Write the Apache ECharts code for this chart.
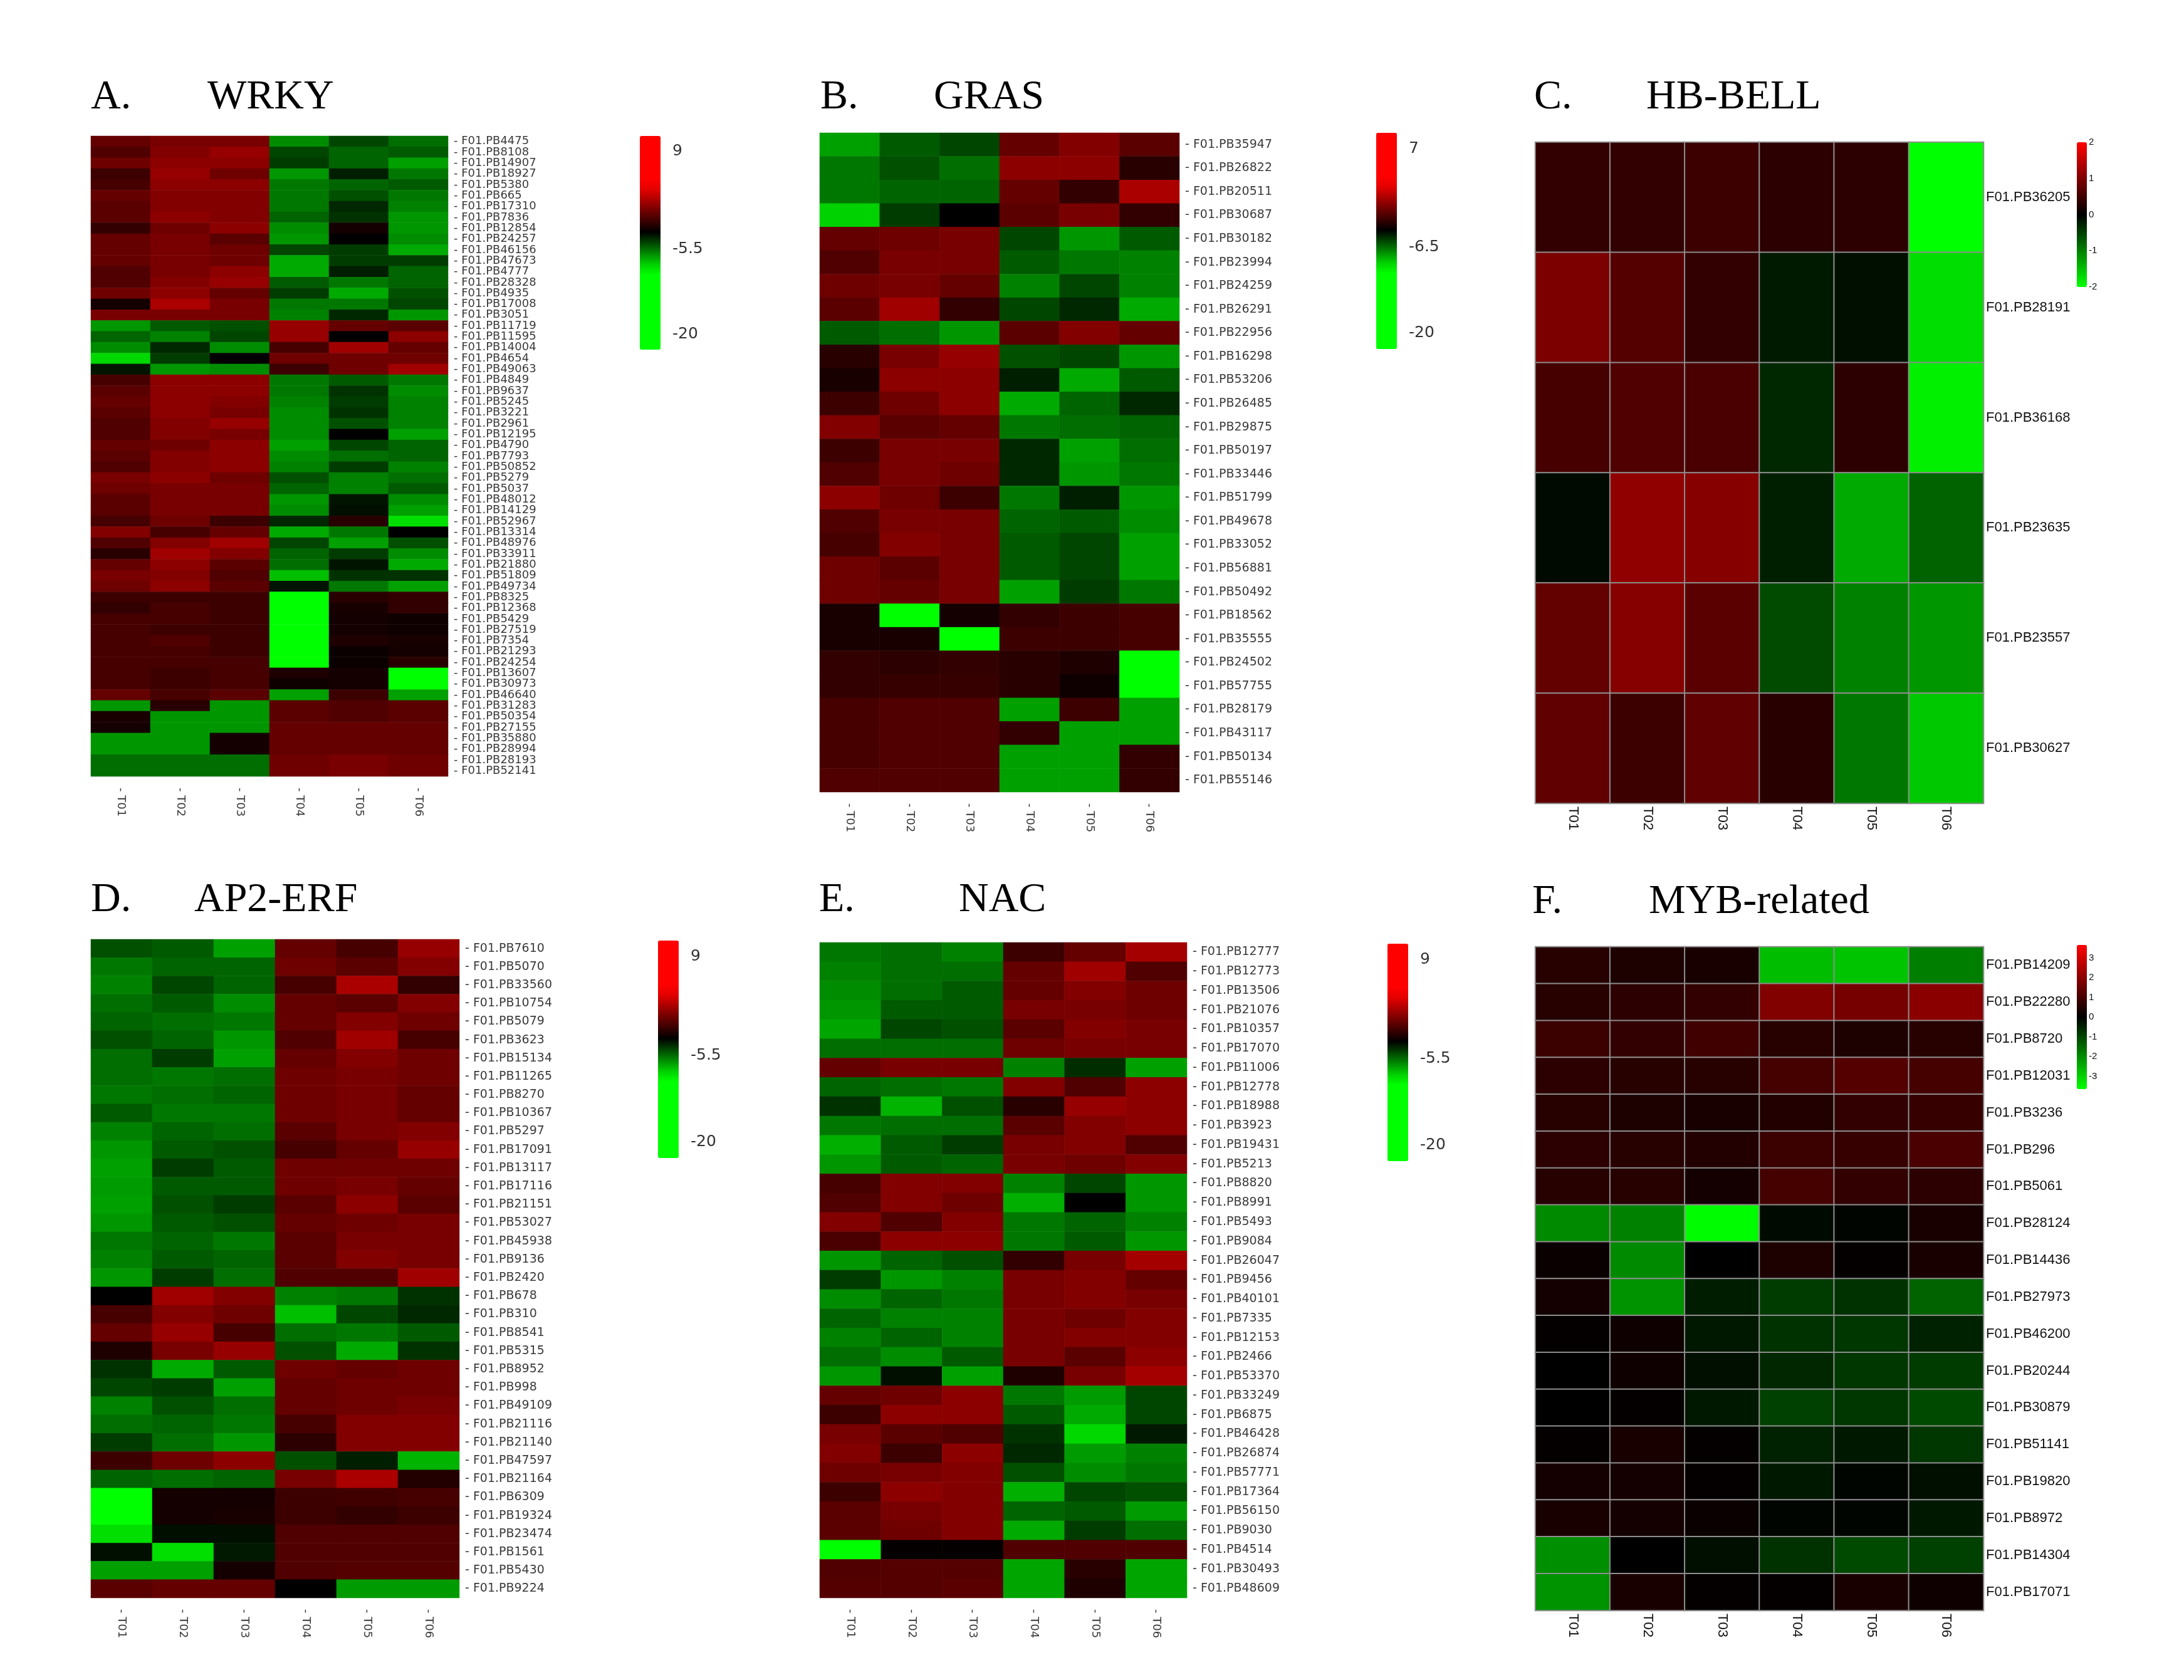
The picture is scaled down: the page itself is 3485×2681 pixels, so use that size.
<!DOCTYPE html>
<html>
<head>
<meta charset="utf-8">
<title>TF family expression heatmaps</title>
<script src="https://cdn.jsdelivr.net/npm/echarts@6.0.0/dist/echarts.min.js"></script>
<style>
html, body { margin: 0; padding: 0; background: #ffffff; }
#main { width: 3485px; height: 2681px; }
</style>
</head>
<body>
<div id="main"></div>
<script>
var samples = ['T01', 'T02', 'T03', 'T04', 'T05', 'T06'];

// A. WRKY
var wrkyGenes = ['F01.PB4475','F01.PB8108','F01.PB14907','F01.PB18927','F01.PB5380','F01.PB665','F01.PB17310','F01.PB7836','F01.PB12854','F01.PB24257',
  'F01.PB46156','F01.PB47673','F01.PB4777','F01.PB28328','F01.PB4935','F01.PB17008','F01.PB3051','F01.PB11719','F01.PB11595','F01.PB14004',
  'F01.PB4654','F01.PB49063','F01.PB4849','F01.PB9637','F01.PB5245','F01.PB3221','F01.PB2961','F01.PB12195','F01.PB4790','F01.PB7793',
  'F01.PB50852','F01.PB5279','F01.PB5037','F01.PB48012','F01.PB14129','F01.PB52967','F01.PB13314','F01.PB48976','F01.PB33911','F01.PB21880',
  'F01.PB51809','F01.PB49734','F01.PB8325','F01.PB12368','F01.PB5429','F01.PB27519','F01.PB7354','F01.PB21293','F01.PB24254','F01.PB13607',
  'F01.PB30973','F01.PB46640','F01.PB31283','F01.PB50354','F01.PB27155','F01.PB35880','F01.PB28994','F01.PB28193','F01.PB52141'];
var wrkyValues = [
  [-1.49, -0.98, -0.98, -7.00, -5.52, -6.36],
  [-2.00, -0.72, -0.21, -5.52, -6.15, -5.94],
  [-1.23, -0.47, -0.47, -5.31, -6.15, -7.42],
  [-2.51, -0.21, -1.23, -7.21, -4.68, -6.57],
  [-2.26, -0.47, -0.47, -6.57, -6.15, -5.94],
  [-1.49, -0.72, -0.72, -6.57, -5.73, -6.57],
  [-1.75, -0.72, -0.72, -6.57, -4.89, -6.79],
  [-1.75, -0.47, -0.72, -6.15, -5.10, -7.21],
  [-2.77, -1.23, -0.47, -7.00, -3.54, -7.21],
  [-1.49, -0.98, -1.75, -7.21, -4.05, -7.00],
  [-1.49, -0.98, -1.23, -5.52, -5.31, -7.63],
  [-1.49, -0.98, -1.23, -7.63, -5.31, -5.31],
  [-2.00, -0.98, -0.47, -7.63, -4.68, -6.15],
  [-2.00, -0.72, -0.21, -5.94, -6.57, -6.15],
  [-1.23, -0.47, -1.49, -5.31, -7.63, -5.73],
  [-3.54, 0.30, -0.98, -6.57, -6.57, -5.52],
  [-0.98, -0.98, -0.98, -6.79, -4.89, -7.21],
  [-7.21, -5.94, -5.73, -0.21, -1.49, -1.75],
  [-6.15, -6.79, -5.52, -0.21, -4.05, -0.47],
  [-7.00, -4.89, -7.00, -2.26, 0.04, -1.49],
  [-8.68, -5.31, -4.05, -1.23, -1.23, -1.23],
  [-4.47, -7.21, -7.00, -2.51, -1.23, 0.04],
  [-2.26, -0.47, -0.47, -6.57, -5.94, -6.57],
  [-1.75, -0.47, -0.47, -6.57, -5.10, -7.00],
  [-1.49, -0.47, -0.72, -6.79, -5.31, -6.79],
  [-1.75, -0.47, -0.98, -7.00, -5.10, -6.79],
  [-2.00, -0.72, -0.21, -7.00, -5.73, -6.79],
  [-2.00, -0.72, -0.98, -7.00, -4.05, -7.42],
  [-1.49, -1.23, -0.47, -7.42, -5.52, -6.15],
  [-1.75, -0.72, -0.47, -7.00, -6.36, -6.15],
  [-2.00, -0.72, -0.47, -6.79, -5.31, -6.79],
  [-0.98, -0.47, -1.23, -5.73, -6.79, -6.36],
  [-1.23, -0.98, -0.98, -6.15, -6.79, -5.94],
  [-1.75, -0.98, -0.98, -7.21, -4.47, -7.00],
  [-1.75, -0.98, -0.98, -7.00, -4.37, -7.42],
  [-2.26, -1.23, -2.51, -4.89, -3.03, -8.89],
  [-0.72, -2.26, -1.49, -7.63, -6.57, -4.05],
  [-2.00, -0.72, 0.04, -5.52, -7.42, -5.73],
  [-3.03, 0.04, -0.72, -6.15, -5.31, -7.00],
  [-1.49, -0.47, -1.75, -6.36, -4.47, -7.63],
  [-0.98, -0.72, -2.00, -8.05, -5.10, -5.10],
  [-1.23, -0.47, -1.75, -4.47, -6.57, -7.42],
  [-2.51, -2.51, -2.51, -16.0, -3.03, -2.77],
  [-2.77, -2.26, -2.51, -16.0, -3.41, -2.77],
  [-2.26, -2.26, -2.51, -16.0, -3.54, -3.67],
  [-2.26, -2.51, -2.51, -16.0, -3.54, -3.67],
  [-2.26, -2.00, -2.51, -16.0, -3.28, -3.41],
  [-2.26, -2.26, -2.51, -16.0, -3.79, -3.54],
  [-2.26, -2.26, -2.26, -16.0, -3.79, -3.03],
  [-2.26, -2.51, -2.26, -3.28, -3.54, -16.0],
  [-2.26, -2.51, -2.26, -3.67, -3.54, -16.0],
  [-1.49, -2.26, -1.75, -7.42, -2.51, -7.42],
  [-7.21, -3.03, -7.21, -1.75, -2.00, -1.75],
  [-3.41, -7.21, -7.21, -1.75, -2.00, -1.75],
  [-3.54, -7.21, -7.21, -1.49, -1.49, -1.49],
  [-7.21, -7.21, -3.54, -1.49, -1.49, -1.49],
  [-7.21, -7.21, -3.54, -1.49, -1.49, -1.49],
  [-6.36, -6.36, -6.36, -1.23, -0.98, -1.23],
  [-6.36, -6.36, -6.36, -1.23, -0.98, -1.23]
];

// B. GRAS
var grasGenes = ['F01.PB35947','F01.PB26822','F01.PB20511','F01.PB30687','F01.PB30182','F01.PB23994','F01.PB24259','F01.PB26291','F01.PB22956','F01.PB16298',
  'F01.PB53206','F01.PB26485','F01.PB29875','F01.PB50197','F01.PB33446','F01.PB51799','F01.PB49678','F01.PB33052','F01.PB56881','F01.PB50492',
  'F01.PB18562','F01.PB35555','F01.PB24502','F01.PB57755','F01.PB28179','F01.PB43117','F01.PB50134','F01.PB55146'];
var grasValues = [
  [-8.28, -6.91, -6.52, -2.77, -2.05, -3.01],
  [-7.50, -6.72, -7.30, -1.82, -1.82, -4.20],
  [-7.50, -7.11, -7.11, -2.77, -3.96, -1.10],
  [-9.26, -6.33, -5.15, -3.01, -2.29, -3.96],
  [-2.77, -2.53, -2.29, -6.52, -8.09, -6.91],
  [-3.24, -2.29, -2.29, -6.91, -7.50, -7.70],
  [-2.53, -2.29, -2.77, -7.70, -6.52, -7.70],
  [-3.01, -1.34, -3.96, -6.52, -5.93, -8.48],
  [-6.91, -7.30, -8.09, -3.01, -2.05, -2.77],
  [-4.20, -2.29, -1.58, -6.72, -6.52, -8.09],
  [-4.55, -1.82, -1.82, -5.74, -8.48, -6.91],
  [-3.72, -2.53, -1.82, -8.48, -7.11, -5.93],
  [-2.05, -3.01, -2.77, -7.50, -7.30, -7.11],
  [-3.72, -2.29, -2.29, -5.93, -8.28, -7.30],
  [-3.24, -2.29, -2.53, -5.93, -8.09, -7.50],
  [-1.82, -2.53, -3.72, -7.50, -5.74, -8.09],
  [-3.24, -2.29, -2.29, -7.11, -6.91, -7.89],
  [-3.48, -2.05, -2.29, -6.91, -6.52, -8.28],
  [-2.53, -3.01, -2.29, -6.91, -6.52, -8.28],
  [-2.53, -2.77, -2.29, -8.28, -6.33, -7.50],
  [-4.55, -15.0, -4.67, -3.96, -3.72, -3.48],
  [-4.55, -4.55, -15.0, -3.72, -3.72, -3.48],
  [-3.96, -4.08, -3.96, -4.20, -4.44, -15.0],
  [-3.96, -3.84, -3.84, -4.20, -4.79, -15.0],
  [-3.48, -3.24, -3.24, -8.28, -3.72, -8.28],
  [-3.48, -3.24, -3.24, -3.96, -8.28, -8.28],
  [-3.48, -3.24, -3.24, -8.28, -8.28, -3.96],
  [-3.24, -3.24, -3.24, -8.28, -8.28, -3.96]
];

// C. HB-BELL
var bellGenes = ['F01.PB36205', 'F01.PB28191', 'F01.PB36168', 'F01.PB23635', 'F01.PB23557', 'F01.PB30627'];
var bellValues = [
  [0.39, 0.39, 0.47, 0.35, 0.35, -2.00],
  [0.98, 0.67, 0.39, -0.20, -0.12, -1.73],
  [0.55, 0.63, 0.59, -0.31, 0.35, -1.88],
  [-0.08, 1.14, 1.06, -0.24, -1.33, -0.78],
  [0.78, 1.06, 0.71, -0.59, -1.02, -1.18],
  [0.75, 0.47, 0.75, 0.31, -0.94, -1.57]
];

// D. AP2-ERF
var erfGenes = ['F01.PB7610','F01.PB5070','F01.PB33560','F01.PB10754','F01.PB5079','F01.PB3623','F01.PB15134','F01.PB11265','F01.PB8270','F01.PB10367',
  'F01.PB5297','F01.PB17091','F01.PB13117','F01.PB17116','F01.PB21151','F01.PB53027','F01.PB45938','F01.PB9136','F01.PB2420','F01.PB678',
  'F01.PB310','F01.PB8541','F01.PB5315','F01.PB8952','F01.PB998','F01.PB49109','F01.PB21116','F01.PB21140','F01.PB47597','F01.PB21164',
  'F01.PB6309','F01.PB19324','F01.PB23474','F01.PB1561','F01.PB5430','F01.PB9224'];
var erfValues = [
  [-5.73, -5.94, -7.42, -1.49, -2.26, -0.21],
  [-6.57, -6.15, -6.15, -1.23, -1.75, -0.72],
  [-6.79, -5.52, -6.15, -2.26, 0.30, -2.77],
  [-6.36, -5.94, -7.00, -1.49, -1.75, -0.72],
  [-6.15, -6.36, -6.57, -1.49, -0.72, -1.23],
  [-5.73, -6.15, -7.21, -2.00, 0.04, -2.26],
  [-6.36, -5.31, -7.42, -1.49, -0.72, -1.23],
  [-6.36, -6.57, -6.36, -1.23, -0.98, -1.23],
  [-6.57, -6.36, -6.15, -1.23, -0.98, -1.49],
  [-5.94, -6.57, -6.57, -1.23, -0.98, -1.49],
  [-6.79, -6.15, -6.36, -1.75, -0.98, -0.72],
  [-7.21, -5.94, -5.73, -2.26, -1.49, -0.21],
  [-7.42, -5.31, -5.94, -1.23, -1.23, -1.23],
  [-7.31, -5.94, -5.94, -1.23, -0.98, -1.49],
  [-7.42, -5.73, -5.31, -1.75, -0.47, -1.75],
  [-7.21, -5.94, -5.73, -1.49, -1.23, -0.98],
  [-6.57, -6.15, -6.57, -1.75, -0.98, -0.98],
  [-6.79, -5.94, -6.15, -1.75, -0.72, -0.98],
  [-7.21, -5.31, -6.36, -2.00, -2.00, 0.04],
  [-4.05, 0.04, -0.72, -6.79, -6.57, -5.10],
  [-2.26, -0.72, -1.23, -8.05, -5.52, -4.89],
  [-1.49, -0.21, -2.26, -6.36, -6.57, -5.94],
  [-3.28, -0.98, -0.21, -5.73, -7.63, -5.10],
  [-5.10, -7.63, -5.94, -1.23, -1.49, -1.23],
  [-5.52, -5.31, -7.42, -1.49, -1.23, -1.23],
  [-6.79, -5.73, -6.36, -1.49, -1.23, -0.98],
  [-6.36, -6.15, -6.57, -2.26, -0.72, -0.72],
  [-5.31, -6.36, -7.21, -2.90, -0.72, -0.72],
  [-2.51, -1.23, -0.47, -5.73, -4.68, -7.84],
  [-6.15, -6.36, -6.15, -0.98, 0.30, -3.15],
  [-16.0, -3.54, -3.54, -2.51, -2.39, -2.26],
  [-16.0, -3.54, -3.41, -2.51, -2.77, -2.51],
  [-8.89, -4.37, -4.37, -2.00, -2.00, -2.00],
  [-4.37, -8.89, -4.58, -2.00, -2.00, -2.00],
  [-7.42, -7.42, -3.54, -2.00, -1.87, -1.87],
  [-1.75, -1.49, -1.49, -4.05, -7.31, -7.31]
];

// E. NAC
var nacGenes = ['F01.PB12777','F01.PB12773','F01.PB13506','F01.PB21076','F01.PB10357','F01.PB17070','F01.PB11006','F01.PB12778','F01.PB18988','F01.PB3923',
  'F01.PB19431','F01.PB5213','F01.PB8820','F01.PB8991','F01.PB5493','F01.PB9084','F01.PB26047','F01.PB9456','F01.PB40101','F01.PB7335',
  'F01.PB12153','F01.PB2466','F01.PB53370','F01.PB33249','F01.PB6875','F01.PB46428','F01.PB26874','F01.PB57771','F01.PB17364','F01.PB56150',
  'F01.PB9030','F01.PB4514','F01.PB30493','F01.PB48609'];
var nacValues = [
  [-6.57, -6.36, -6.79, -2.51, -1.49, 0.17],
  [-6.79, -6.36, -6.36, -1.49, 0.04, -2.00],
  [-7.00, -6.36, -5.94, -1.49, -0.72, -1.23],
  [-7.21, -5.94, -5.94, -0.98, -0.98, -1.23],
  [-7.52, -5.52, -5.73, -1.75, -0.72, -0.98],
  [-6.36, -6.36, -6.36, -1.23, -0.98, -0.98],
  [-1.49, -0.98, -0.98, -6.79, -5.00, -7.42],
  [-6.15, -6.36, -6.57, -0.72, -2.00, -0.47],
  [-5.10, -7.84, -5.73, -3.03, -0.21, -0.47],
  [-6.57, -6.36, -6.36, -1.75, -0.72, -0.47],
  [-7.73, -5.94, -5.31, -0.98, -0.72, -2.00],
  [-7.21, -5.94, -6.15, -0.98, -1.23, -0.72],
  [-2.26, -0.72, -0.72, -6.79, -5.52, -7.21],
  [-2.00, -0.72, -1.23, -7.73, -4.05, -7.21],
  [-0.72, -2.00, -0.72, -6.57, -6.15, -6.79],
  [-2.13, -0.47, -0.47, -6.57, -5.94, -7.21],
  [-7.21, -6.15, -5.73, -2.77, -0.98, 0.17],
  [-5.31, -7.21, -6.79, -0.98, -0.72, -1.49],
  [-7.00, -6.15, -6.57, -0.98, -0.72, -0.98],
  [-6.15, -6.79, -6.79, -0.98, -1.23, -0.72],
  [-6.79, -6.15, -6.79, -0.98, -0.72, -0.72],
  [-6.36, -7.00, -5.94, -0.98, -1.75, -0.47],
  [-7.21, -4.37, -7.42, -3.28, -0.98, 0.17],
  [-1.49, -1.23, -0.47, -6.57, -7.31, -5.52],
  [-2.51, -0.47, -0.47, -5.94, -7.63, -5.52],
  [-0.98, -1.75, -2.00, -5.10, -8.68, -4.58],
  [-0.72, -2.51, -0.47, -4.89, -7.31, -6.79],
  [-1.23, -0.98, -0.72, -5.73, -7.00, -6.57],
  [-2.51, -0.47, -0.72, -7.73, -5.52, -5.73],
  [-1.75, -0.98, -0.72, -6.15, -5.94, -7.31],
  [-1.75, -1.23, -0.72, -7.63, -5.31, -6.36],
  [-16.0, -3.92, -3.92, -2.00, -2.00, -2.00],
  [-2.00, -1.87, -1.87, -7.52, -3.03, -7.52],
  [-1.87, -1.87, -1.75, -7.52, -3.28, -7.52]
];

// F. MYB-related
var mybGenes = ['F01.PB14209','F01.PB22280','F01.PB8720','F01.PB12031','F01.PB3236','F01.PB296','F01.PB5061','F01.PB28124','F01.PB14436',
  'F01.PB27973','F01.PB46200','F01.PB20244','F01.PB30879','F01.PB51141','F01.PB19820','F01.PB8972','F01.PB14304','F01.PB17071'];
var mybValues = [
  [0.56, 0.42, 0.35, -2.70, -2.80, -1.80],
  [0.56, 0.63, 0.71, 1.84, 1.69, 1.98],
  [0.85, 0.71, 0.92, 0.56, 0.42, 0.56],
  [0.63, 0.56, 0.56, 0.99, 1.20, 0.99],
  [0.56, 0.42, 0.35, 0.49, 0.71, 0.78],
  [0.63, 0.56, 0.49, 0.85, 0.78, 1.06],
  [0.56, 0.56, 0.28, 0.99, 0.71, 0.63],
  [-1.98, -1.84, -3.60, -0.14, -0.07, 0.35],
  [0.14, -1.98, 0.00, 0.42, 0.07, 0.35],
  [0.28, -2.10, -0.42, -0.85, -0.71, -1.41],
  [0.07, 0.21, -0.35, -0.71, -0.78, -0.49],
  [0.00, 0.21, -0.21, -0.56, -0.78, -0.85],
  [0.00, 0.07, -0.35, -0.92, -0.78, -1.06],
  [0.07, 0.35, 0.07, -0.49, -0.35, -0.78],
  [0.28, 0.28, 0.07, -0.35, -0.07, -0.21],
  [0.35, 0.28, 0.14, -0.07, -0.07, -0.35],
  [-2.05, 0.00, -0.21, -0.71, -1.06, -0.92],
  [-2.10, 0.35, 0.07, 0.07, 0.35, 0.21]
];

// legend tick labels
var ticksWrky = ['9', '-5.5', '-20'];
var ticksGras = ['7', '-6.5', '-20'];
var ticksErf = ['9', '-5.5', '-20'];
var ticksNac = ['9', '-5.5', '-20'];
var ticksBell = [2, 1, 0, -1, -2];
var ticksMyb = [3, 2, 1, 0, -1, -2, -3];

// TBtools style ramp: saturates early at both ends
var rampTB = ['#00ff00', '#00ff00', '#00ff00', '#00ff00', '#00ff00', '#00ff00', '#00ff00', '#00ff00',
  '#00cf00', '#008a00', '#004500', '#000000', '#390000', '#710000', '#aa0000', '#e30000',
  '#ff0000', '#ff0000', '#ff0000', '#ff0000', '#ff0000'];
// pheatmap style ramp
var rampPH = ['#00ff00', '#000000', '#ff0000'];

var panels = [
  { tag: 'A.', name: 'WRKY', genes: wrkyGenes, values: wrkyValues, min: -20, max: 9, ticks: ticksWrky, tb: true,
    grid: { left: 145, top: 217, width: 570, height: 1022 }, bar: { left: 1021, top: 217, w: 33, h: 341 },
    tagX: 145, nameX: 331, titleY: 156, labelSize: 18 },
  { tag: 'B.', name: 'GRAS', genes: grasGenes, values: grasValues, min: -20, max: 7, ticks: ticksGras, tb: true,
    grid: { left: 1308, top: 212, width: 574, height: 1052 }, bar: { left: 2196, top: 212, w: 33, h: 345 },
    tagX: 1309, nameX: 1490, titleY: 156, labelSize: 19 },
  { tag: 'C.', name: 'HB-BELL', genes: bellGenes, values: bellValues, min: -2, max: 2, ticks: ticksBell, tb: false,
    grid: { left: 2450, top: 227, width: 715, height: 1055 }, bar: { left: 3314, top: 227, w: 16, h: 231 },
    tagX: 2448, nameX: 2627, titleY: 156, labelSize: 22 },
  { tag: 'D.', name: 'AP2-ERF', genes: erfGenes, values: erfValues, min: -20, max: 9, ticks: ticksErf, tb: true,
    grid: { left: 145, top: 1499, width: 588, height: 1051 }, bar: { left: 1050, top: 1501, w: 33, h: 347 },
    tagX: 145, nameX: 310, titleY: 1437, labelSize: 19 },
  { tag: 'E.', name: 'NAC', genes: nacGenes, values: nacValues, min: -20, max: 9, ticks: ticksNac, tb: true,
    grid: { left: 1308, top: 1504, width: 586, height: 1046 }, bar: { left: 2214, top: 1506, w: 33, h: 347 },
    tagX: 1307, nameX: 1530, titleY: 1437, labelSize: 19 },
  { tag: 'F.', name: 'MYB-related', genes: mybGenes, values: mybValues, min: -3.65, max: 3.65, ticks: ticksMyb, tb: false,
    grid: { left: 2450, top: 1511, width: 715, height: 1059 }, bar: { left: 3314, top: 1508, w: 16, h: 230 },
    tagX: 2445, nameX: 2631, titleY: 1440, labelSize: 22 }
];

var myChart = echarts.init(document.getElementById('main'));

var grids = [], xAxes = [], yAxes = [], series = [], visualMaps = [], graphics = [];

panels.forEach(function (p, i) {
  var data = [];
  p.values.forEach(function (row, r) {
    row.forEach(function (v, c) {
      data.push([c, r, v]);
    });
  });

  var font = p.tb ? 'DejaVu Sans' : 'Liberation Sans';
  var txtColor = p.tb ? '#3a3a3a' : '#111111';

  grids.push({ left: p.grid.left, top: p.grid.top, width: p.grid.width, height: p.grid.height, containLabel: false });

  xAxes.push({
    type: 'category', gridIndex: i, data: samples, position: 'bottom',
    axisLine: { show: false }, axisTick: { show: false }, splitLine: { show: false },
    axisLabel: {
      rotate: -90, interval: 0, margin: p.tb ? 18 : 5,
      fontFamily: font, fontSize: p.tb ? 18 : 22, color: txtColor,
      formatter: p.tb ? '- {value}' : '{value}'
    }
  });

  yAxes.push({
    type: 'category', gridIndex: i, data: p.genes, inverse: true, position: 'right',
    axisLine: { show: false }, axisTick: { show: false }, splitLine: { show: false },
    axisLabel: {
      interval: 0, margin: p.tb ? 9 : 4,
      fontFamily: font, fontSize: p.labelSize, color: txtColor,
      formatter: p.tb ? '- {value}' : '{value}'
    }
  });

  series.push({
    name: p.name, type: 'heatmap', xAxisIndex: i, yAxisIndex: i, data: data,
    itemStyle: p.tb ? { borderWidth: 0 } : { borderColor: '#8e8e8e', borderWidth: 2 },
    emphasis: { disabled: true }
  });

  visualMaps.push({
    type: 'continuous', seriesIndex: i, min: p.min, max: p.max,
    calculable: false, hoverLink: false, orient: 'vertical', padding: 0,
    left: p.bar.left, top: p.bar.top, itemWidth: p.bar.w, itemHeight: p.bar.h,
    inRange: { color: p.tb ? rampTB : rampPH }
  });

  // panel titles
  graphics.push({ type: 'text', style: { text: p.tag, x: p.tagX, y: p.titleY, fill: '#000',
    font: '66px "Liberation Serif"', verticalAlign: 'middle' } });
  graphics.push({ type: 'text', style: { text: p.name, x: p.nameX, y: p.titleY, fill: '#000',
    font: '66px "Liberation Serif"', verticalAlign: 'middle' } });

  // legend labels
  if (p.tb) {
    var fr = [0.073, 0.528, 0.927];
    p.ticks.forEach(function (t, k) {
      graphics.push({ type: 'text', style: { text: t, x: p.bar.left + p.bar.w + 19, y: p.bar.top + fr[k] * p.bar.h,
        fill: '#333', font: '25px "DejaVu Sans"', verticalAlign: 'middle' } });
    });
  } else {
    p.ticks.forEach(function (t) {
      graphics.push({ type: 'text', style: { text: String(t), x: p.bar.left + p.bar.w + 3,
        y: p.bar.top + (p.max - t) / (p.max - p.min) * p.bar.h,
        fill: '#111', font: '15px "Liberation Sans"', verticalAlign: 'middle' } });
    });
  }
});

myChart.setOption({
  backgroundColor: '#ffffff',
  animation: false,
  tooltip: { show: false },
  grid: grids,
  xAxis: xAxes,
  yAxis: yAxes,
  visualMap: visualMaps,
  series: series,
  graphic: graphics
});
</script>
</body>
</html>
